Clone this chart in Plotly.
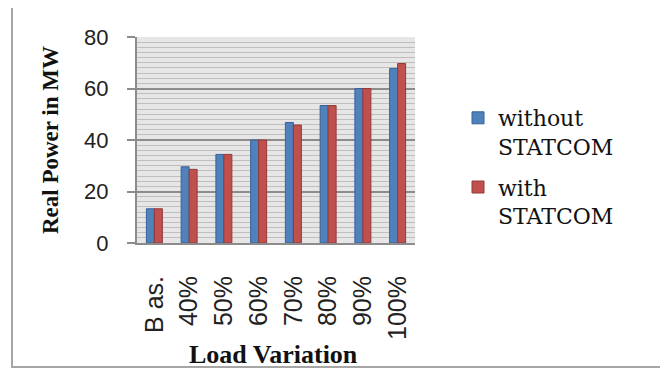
import plotly.graph_objects as go

categories = ["B as.", "40%", "50%", "60%", "70%", "80%", "90%", "100%"]
without_statcom = [13.3, 29.6, 34.4, 40.0, 46.8, 53.4, 60.0, 67.8]
with_statcom = [13.3, 28.6, 34.4, 40.0, 45.8, 53.4, 60.0, 69.7]
series_names = ["without<br>STATCOM", "with<br>STATCOM"]
y_ticks = [0, 20, 40, 60, 80]
x_title = "Load Variation"
y_title = "Real Power in MW"

fig = go.Figure()
fig.add_trace(go.Bar(x=categories, y=without_statcom, name=series_names[0],
                     legendgroup="a",
                     marker=dict(color="#4F81BD", line=dict(color="#3A6294", width=1))))
fig.add_trace(go.Bar(x=categories, y=with_statcom, name=series_names[1],
                     legendgroup="b",
                     marker=dict(color="#C0504D", line=dict(color="#923B39", width=1))))

OFF = 8  # page body margin
L, R, T, B = 137 - OFF, 415 - OFF, 37 - OFF, 243 - OFF
W, H = 668, 377
pw, ph = R - L, B - T

def px(x):
    return (x - OFF - L) / pw

def py(y):
    return (B - (y - OFF)) / ph

SERIF = "Liberation Serif"
SANS = "Liberation Sans"

fig.update_layout(
    width=W, height=H,
    margin=dict(l=L, r=W - R, t=T, b=H - B, pad=0, autoexpand=False),
    font=dict(family=SERIF, color="#111"),
    paper_bgcolor="white",
    plot_bgcolor="#e6e6e6",
    barmode="group",
    bargap=0.54,
    bargroupgap=0,
    showlegend=True,
    legend=dict(x=px(458), y=py(97), xanchor="left", yanchor="top",
                font=dict(family="DejaVu Serif", size=22, color="#111"),
                valign="top", itemwidth=30, tracegroupgap=9,
                bgcolor="rgba(0,0,0,0)"),
    xaxis=dict(
        type="category",
        automargin=False,
        tickangle=-90,
        tickfont=dict(family=SANS, size=25, color="#222"),
        showline=True, linecolor="#8c8c8c", linewidth=2,
        ticks="", showgrid=False,
        ticklabelstandoff=21,
    ),
    yaxis=dict(
        automargin=False,
        range=[0, 80],
        tickvals=y_ticks,
        tickfont=dict(family=SANS, size=22, color="#222"),
        showline=True, linecolor="#8c8c8c", linewidth=2,
        ticks="outside", ticklen=8, tickcolor="#8c8c8c", tickwidth=2,
        ticklabelstandoff=14,
        showgrid=True, gridcolor="#8c8c8c", gridwidth=2,
        zeroline=False,
        minor=dict(dtick=2, showgrid=True, gridcolor="#bebebe", gridwidth=1),
        title=dict(text="<b>" + y_title + "</b>",
                   font=dict(family=SERIF, size=23, color="#111"),
                   standoff=19),
    ),
    annotations=[dict(text="<b>" + x_title + "</b>", xref="paper", yref="paper",
                      x=px(273), y=py(354), xanchor="center", yanchor="middle",
                      showarrow=False,
                      font=dict(family=SERIF, size=26, color="#111"))],
    shapes=[dict(type="rect", xref="paper", yref="paper",
                 x0=px(12), x1=px(665), y0=py(367), y1=py(3),
                 line=dict(color="#a6a6a6", width=2), fillcolor="rgba(0,0,0,0)",
                 layer="below")],
)

fig.write_html("out.html")
